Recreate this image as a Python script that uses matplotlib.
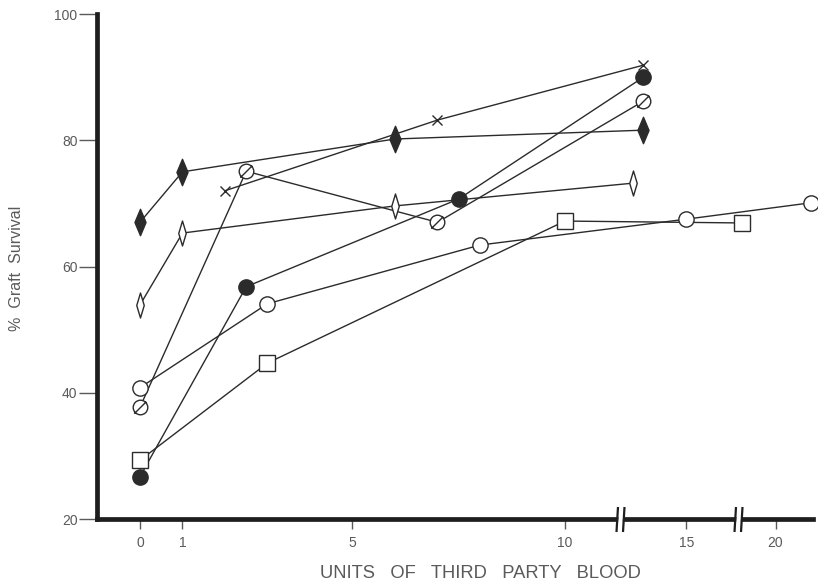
import numpy as np
import matplotlib.pyplot as plt
from matplotlib.path import Path

# Данные (x - единицы крови, y - % выживания трансплантата)
filled_diamond_x = [0, 1, 6, 12.6]
filled_diamond_y = [67.0, 75.0, 80.2, 81.6]

open_diamond_x = [0, 1, 6, 12.0]
open_diamond_y = [53.9, 65.3, 69.6, 73.2]

cross_x = [2, 7, 12.6]
cross_y = [72.0, 83.2, 91.9]

filled_circle_x = [0, 2.5, 7.5, 12.6]
filled_circle_y = [26.7, 56.8, 70.7, 90.0]

slashed_circle_x = [0, 2.5, 7, 12.6]
slashed_circle_y = [37.7, 75.1, 67.0, 86.2]

open_circle_x = [0, 3, 8, 15, 22]
open_circle_y = [40.8, 54.1, 63.4, 67.5, 70.1]

square_x = [0, 3, 10, 18.1]
square_y = [29.3, 44.7, 67.2, 66.9]

x_ticks = [0, 1, 5, 10, 15, 20]
y_ticks = [20, 40, 60, 80, 100]
breaks_x = [11.3, 17.9]

# разрыв оси: после BRK шкала сжимается
BRK = 11.3
SQUEEZE = 0.42


def fwd(x):
    x = np.asarray(x, dtype=float)
    return np.where(x <= BRK, x, BRK + (x - BRK) * SQUEEZE)


def inv(t):
    t = np.asarray(t, dtype=float)
    return np.where(t <= BRK, t, BRK + (t - BRK) / SQUEEZE)


def diamond(w):
    return Path([(0, 1), (w, 0), (0, -1), (-w, 0), (0, 1)],
                [Path.MOVETO, Path.LINETO, Path.LINETO, Path.LINETO, Path.CLOSEPOLY])


def main():
    plt.rcParams['font.family'] = ['Liberation Sans', 'DejaVu Sans']
    ink = '#2b2b2b'
    grey = '#5a5a5a'

    fig = plt.figure(figsize=(8.18, 5.84), dpi=100)
    ax = fig.add_axes([0.1186, 0.1113, 0.8753, 0.8647])
    ax.set_xscale('function', functions=(fwd, inv))

    # маркеры
    slash = Path.make_compound_path(
        Path.unit_circle(),
        Path([(-0.85, -0.85), (0.8, 0.8)], [Path.MOVETO, Path.LINETO]))

    series = [
        (filled_diamond_x, filled_diamond_y, diamond(0.42), 19, ink),
        (open_diamond_x, open_diamond_y, diamond(0.3), 18, 'white'),
        (cross_x, cross_y, 'x', 7, ink),
        (filled_circle_x, filled_circle_y, 'o', 11, ink),
        (slashed_circle_x, slashed_circle_y, slash, 10.5, 'white'),
        (open_circle_x, open_circle_y, 'o', 11, 'white'),
        (square_x, square_y, 's', 11, 'white'),
    ]

    # сначала линии, потом маркеры поверх
    for xs, ys, m, ms, fc in series:
        ax.plot(xs, ys, color=ink, linewidth=1.0, zorder=2, clip_on=False)
    for xs, ys, m, ms, fc in series:
        ax.plot(xs, ys, linestyle='none', marker=m, markersize=ms,
                markerfacecolor=fc, markeredgecolor=ink, markeredgewidth=1.0,
                zorder=3, clip_on=False)

    ax.set_xlim(-1.01, 22.1)
    ax.set_ylim(20, 100)

    ax.set_xticks(x_ticks)
    ax.set_xticklabels([str(t) for t in x_ticks])
    ax.set_yticks(y_ticks)
    ax.minorticks_off()

    for side in ['top', 'right']:
        ax.spines[side].set_visible(False)
    for side in ['left', 'bottom']:
        ax.spines[side].set_linewidth(3.4)
        ax.spines[side].set_color('#1e1e1e')
        ax.spines[side].set_capstyle('projecting')

    ax.tick_params(axis='y', direction='out', length=13, width=1.0,
                   color=grey, labelcolor=grey, labelsize=10, pad=1)
    ax.tick_params(axis='x', direction='out', length=7, width=1.0,
                   color=grey, labelcolor=grey, labelsize=10, pad=5)

    # значки разрыва оси "//"
    gap = Path([(-0.3, -0.5), (0.26, -0.5), (0.34, 0.5), (-0.22, 0.5), (-0.3, -0.5)],
               [Path.MOVETO, Path.LINETO, Path.LINETO, Path.LINETO, Path.CLOSEPOLY])
    bars = Path([(-0.32, -1), (-0.2, 1), (0.2, -1), (0.32, 1)],
                [Path.MOVETO, Path.LINETO, Path.MOVETO, Path.LINETO])
    for bx in breaks_x:
        ax.plot([bx], [20], linestyle='none', marker=gap, markersize=6,
                markerfacecolor='white', markeredgecolor='none',
                zorder=5, clip_on=False)
        ax.plot([bx], [20], linestyle='none', marker=bars, markersize=18,
                markerfacecolor='none', markeredgecolor='#1e1e1e',
                markeredgewidth=1.6, zorder=6, clip_on=False)

    fig.text(480 / 818, 1 - 573 / 584, 'UNITS   OF   THIRD   PARTY   BLOOD',
             ha='center', va='center', fontsize=13.2, color=grey)
    fig.text(17 / 818, 1 - 268 / 584, '%  Graft  Survival', rotation=90,
             ha='center', va='center', fontsize=11.5, color=grey)

    plt.savefig('out.png', dpi=100)


if __name__ == "__main__":
    main()
